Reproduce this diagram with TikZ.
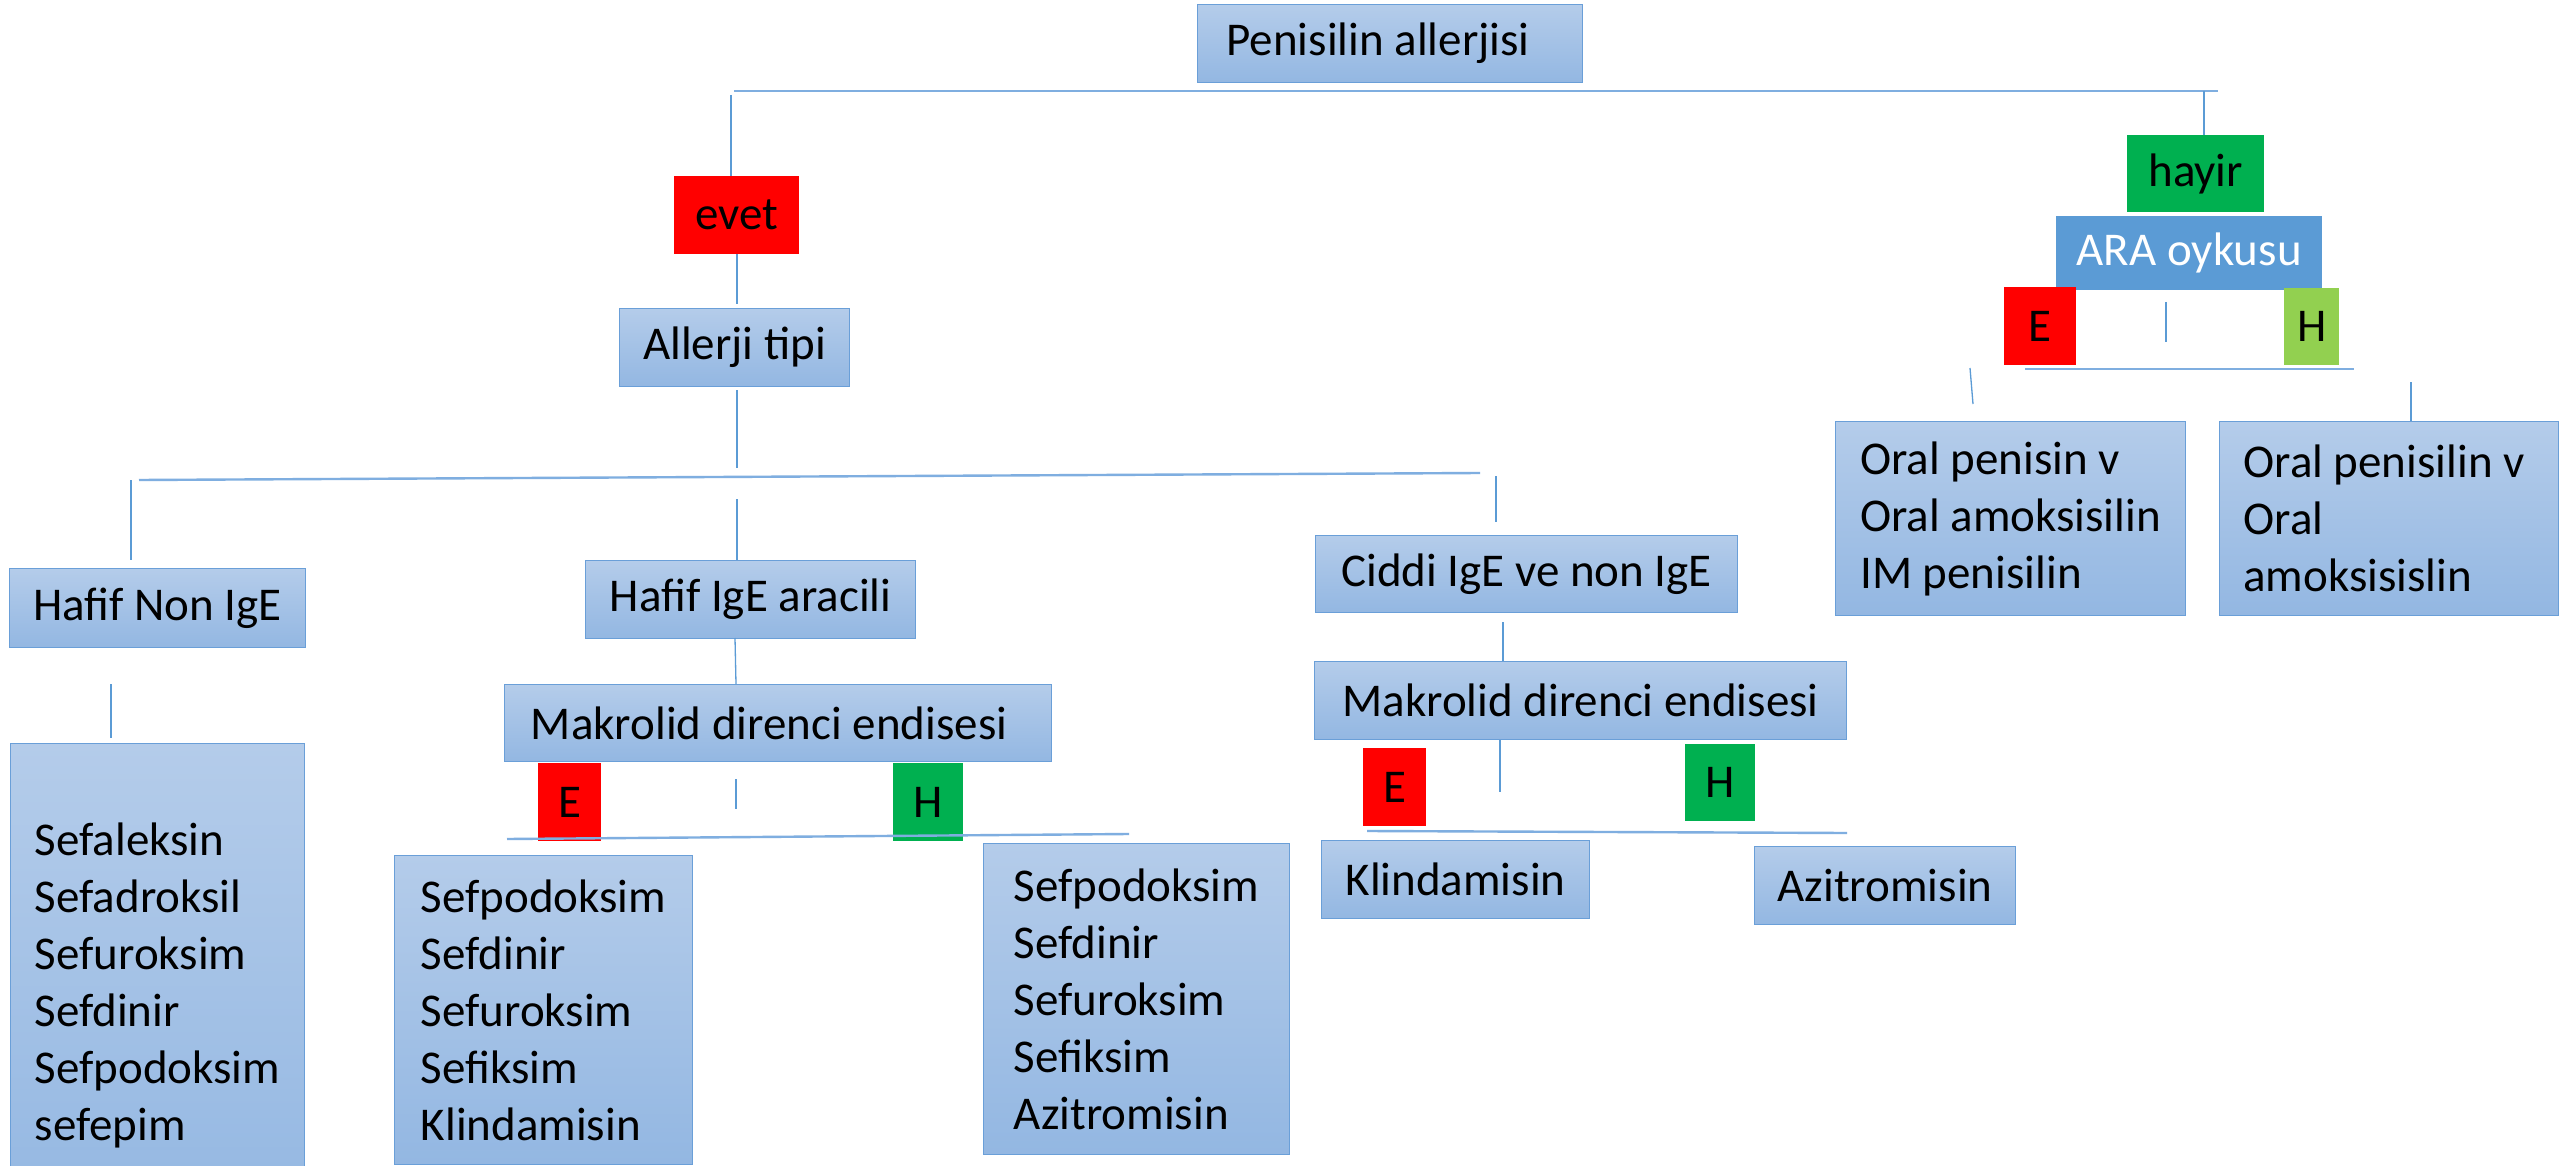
\documentclass[tikz,border=0pt]{standalone}
\usepackage{fontspec}
\setmainfont{Carlito}
\newcommand\mainfs{\fontsize{47}{57}\selectfont}
\definecolor{boxtop}{HTML}{B4CCEA}
\definecolor{boxbot}{HTML}{93B7E2}
\definecolor{boxline}{HTML}{6A9FD8}
\definecolor{lineblue}{HTML}{5B9BD5}
\definecolor{barblue}{HTML}{7FAEE0}
\definecolor{tagred}{HTML}{FF0000}
\definecolor{taggreen}{HTML}{00B050}
\definecolor{taglime}{HTML}{92D050}
\definecolor{arablue}{HTML}{5B9BD5}
\tikzset{
  box/.style={draw=boxline, line width=1.2pt, top color=boxtop, bottom color=boxbot,
    anchor=north west, inner xsep=20pt, inner ysep=0pt, align=left, font=\mainfs},
  tag/.style={anchor=north west, inner sep=0pt, align=center, font=\mainfs},
  conn/.style={draw=lineblue, line width=1.3pt},
  bar/.style={draw=barblue, line width=2.4pt}
}
\begin{document}
\begin{tikzpicture}[x=1pt,y=-1pt]
\clip (0,0) rectangle (2560,1166);
\fill[white] (0,0) rectangle (2560,1166);

% main boxes
\node[box, minimum width=385pt, minimum height=78pt] (top) at (1197,4) {Penisilin allerjisi\hspace*{24pt}};
\node[tag, fill=tagred, minimum width=125pt, minimum height=78pt] (evet) at (674,176) {evet};
\node[box, minimum width=230pt, minimum height=78pt] (allerji) at (619,308) {Allerji tipi};
\node[box, minimum width=296pt, minimum height=79pt] (hnon) at (9,568) {Hafif Non IgE};
\node[box, minimum width=330pt, minimum height=78pt] (hige) at (585,560) {Hafif IgE aracili};
\node[box, minimum width=422pt, minimum height=77pt] (ciddi) at (1315,535) {Ciddi IgE ve non IgE};
\node[box, minimum width=547pt, minimum height=77pt] (makA) at (504,684) {Makrolid direnci endisesi\hspace*{18pt}};
\node[tag, fill=tagred, minimum width=63pt, minimum height=78pt] (eA) at (538,763) {E};
\node[tag, fill=taggreen, minimum width=70pt, minimum height=78pt] (hA) at (893,763) {H};
\node[box, minimum width=294pt, minimum height=484pt] (listA) at (10,743) {Sefaleksin\\Sefadroksil\\Sefuroksim\\Sefdinir\\Sefpodoksim\\sefepim};
\node[box, minimum width=298pt, minimum height=309pt] (listB) at (394,855) {Sefpodoksim\\Sefdinir\\Sefuroksim\\Sefiksim\\Klindamisin};
\node[box, minimum width=306pt, minimum height=311pt] (listC) at (983,843) {Sefpodoksim\\Sefdinir\\Sefuroksim\\Sefiksim\\Azitromisin};
\node[box, minimum width=532pt, minimum height=78pt] (makB) at (1314,661) {Makrolid direnci endisesi};
\node[tag, fill=tagred, minimum width=63pt, minimum height=78pt] (eB) at (1363,748) {E};
\node[tag, fill=taggreen, minimum width=70pt, minimum height=77pt] (hB) at (1685,744) {H};
\node[box, minimum width=268pt, minimum height=78pt] (klin) at (1321,840) {Klindamisin};
\node[box, minimum width=261pt, minimum height=78pt] (azit) at (1754,846) {Azitromisin};
\node[tag, fill=taggreen, minimum width=137pt, minimum height=77pt] (hayir) at (2127,135) {hayir};
\node[tag, fill=arablue, text=white, minimum width=266pt, minimum height=74pt] (ara) at (2056,216) {ARA oykusu};
\node[tag, fill=tagred, minimum width=72pt, minimum height=78pt] (eC) at (2004,287) {E};
\node[tag, fill=taglime, minimum width=55pt, minimum height=77pt] (hC) at (2284,288) {H};
\node[box, minimum width=350pt, minimum height=194pt] (oralA) at (1835,421) {Oral penisin v\\Oral amoksisilin\\IM penisilin};
\node[box, minimum width=339pt, minimum height=194pt] (oralB) at (2219,421) {Oral penisilin v\hspace*{10pt}\\Oral\\amoksisislin};

% free line ends
\coordinate (b1l) at (734,91);
\coordinate (b1r) at (2218,91);
\coordinate (v2t) at (731,95);
\coordinate (v3b) at (737,304);
\coordinate (v4t) at (737,390);
\coordinate (v4b) at (737,468);
\coordinate (b2l) at (139,480);
\coordinate (b2r) at (1480,473);
\coordinate (v6t) at (131,480);
\coordinate (v6b) at (131,560);
\coordinate (v7t) at (737,499);
\coordinate (v8t) at (1496,476);
\coordinate (v8b) at (1496,522);
\coordinate (v9t) at (735,638);
\coordinate (v9b) at (736,684);
\coordinate (v10t) at (111,684);
\coordinate (v10b) at (111,738);
\coordinate (v11t) at (736,779);
\coordinate (v11b) at (736,809);
\coordinate (b3l) at (507,839);
\coordinate (b3r) at (1129,834);
\coordinate (v13t) at (1503,622);
\coordinate (v14b) at (1500,792);
\coordinate (b4l) at (1367,831);
\coordinate (b4r) at (1847,833);
\coordinate (v16t) at (2204,91);
\coordinate (v17t) at (2166,302);
\coordinate (v17b) at (2166,342);
\coordinate (b5l) at (2025,369);
\coordinate (b5r) at (2354,369);
\coordinate (v19t) at (1970,368);
\coordinate (v19b) at (1973,404);
\coordinate (v20t) at (2411,382);

% connectors
\draw[bar] (b1l) -- (b1r);
\draw[conn] (v2t) -- (evet.north -| v2t);
\draw[conn] (evet.south -| v3b) -- (v3b);
\draw[conn] (v4t) -- (v4b);
\draw[bar] (b2l) -- (b2r);
\draw[conn] (v6t) -- (v6b);
\draw[conn] (v7t) -- (hige.north -| v7t);
\draw[conn] (v8t) -- (v8b);
\draw[conn] (v9t) -- (v9b);
\draw[conn] (v10t) -- (v10b);
\draw[conn] (v11t) -- (v11b);
\draw[bar] (b3l) -- (b3r);
\draw[conn] (v13t) -- (makB.north -| v13t);
\draw[conn] (makB.south -| v14b) -- (v14b);
\draw[bar] (b4l) -- (b4r);
\draw[conn] (v16t) -- (hayir.north -| v16t);
\draw[conn] (v17t) -- (v17b);
\draw[bar] (b5l) -- (b5r);
\draw[conn] (v19t) -- (v19b);
\draw[conn] (v20t) -- (oralB.north -| v20t);
\end{tikzpicture}
\end{document}
